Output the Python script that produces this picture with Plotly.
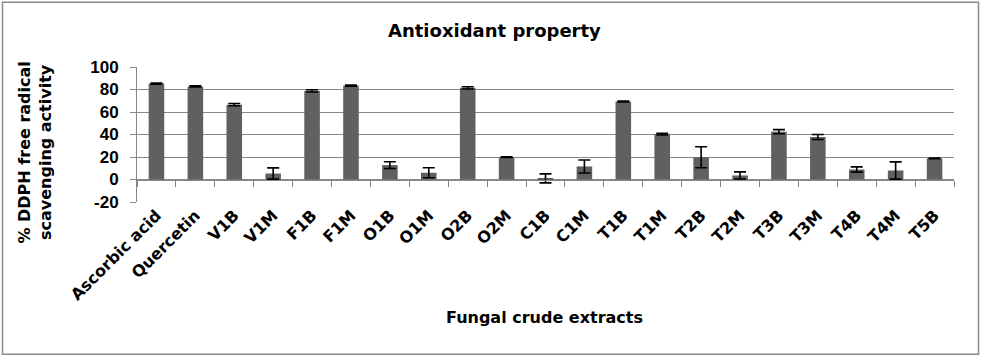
import plotly.graph_objects as go

categories = ["Ascorbic acid", "Quercetin", "V1B", "V1M", "F1B", "F1M", "O1B", "O1M",
              "O2B", "O2M", "C1B", "C1M", "T1B", "T1M", "T2B", "T2M", "T3B", "T3M",
              "T4B", "T4M", "T5B"]
values = [85.3, 82.7, 66.5, 5.3, 78.8, 83.5, 12.8, 6.0, 81.5, 19.8, 1.0, 11.6,
          69.3, 40.3, 19.8, 3.6, 42.5, 37.8, 8.9, 8.0, 18.7]
errors = [0.5, 0.5, 1.0, 5.0, 1.0, 0.5, 3.0, 4.5, 1.0, 0.3, 4.0, 5.8,
          0.4, 0.8, 9.3, 3.2, 1.8, 2.2, 2.3, 7.7, 0.3]
y_ticks = [-20, 0, 20, 40, 60, 80, 100]
y_tick_labels = ["-20", "0", "20", "40", "60", "80", "100"]

TXT = "DejaVu Sans, Verdana, sans-serif"
NUM = "Liberation Sans, Arial, sans-serif"
GRID = "#878787"

fig = go.Figure()
fig.add_trace(go.Bar(
    x=categories, y=values, xaxis="x", yaxis="y",
    width=0.4,
    marker=dict(color="#606060", line=dict(width=0)),
    error_y=dict(type="data", array=errors, visible=True, color="black",
                 thickness=1.6, width=6),
    hoverinfo="x+y",
))
# invisible trace carrying the label axis
fig.add_trace(go.Bar(x=categories, y=[None] * len(categories), xaxis="x2", yaxis="y",
                     showlegend=False, hoverinfo="skip"))

L, R, T, B = 137, 27, 67.3, 155.5
W, H = 981, 358
pw, ph = W - L - R, H - T - B
def px(x):
    return (x - L) / pw
def py(y):
    return (H - B - y) / ph

fig.update_layout(
    width=W, height=H,
    margin=dict(l=L, r=R, t=T, b=B, pad=0),
    paper_bgcolor="white", plot_bgcolor="white",
    showlegend=False, bargap=0.6,
    font=dict(family=TXT, color="black"),
    yaxis=dict(range=[-20, 100], tickvals=y_ticks, ticktext=y_tick_labels,
               showgrid=True, gridcolor=GRID,
               gridwidth=1, zeroline=False, showline=True, linecolor=GRID, linewidth=1,
               ticks="outside", ticklen=6, tickcolor=GRID,
               tickfont=dict(size=17, weight="bold", family=NUM),
               ticklabelstandoff=8),
    xaxis=dict(range=[-0.5, len(categories) - 0.5], anchor="free", position=1 / 6,
               showline=True, linecolor=GRID, linewidth=1, ticks="outside",
               tickson="boundaries", ticklen=6, tickcolor=GRID,
               showticklabels=False, showgrid=False),
    xaxis2=dict(range=[-0.5, len(categories) - 0.5], overlaying="x", anchor="y",
                side="bottom", showline=False, ticks="", showgrid=False,
                tickangle=-45, tickfont=dict(size=16, weight="bold", family=TXT)),
    annotations=[
        dict(text="Antioxidant property", xref="paper", yref="paper",
             x=px(494), y=py(31), showarrow=False, xanchor="center", yanchor="middle",
             font=dict(size=18, weight="bold", family=TXT)),
        dict(text="% DDPH free radical<br>scavenging activity", xref="paper", yref="paper",
             x=px(35), y=py(153), showarrow=False, xanchor="center", yanchor="middle",
             textangle=-90, font=dict(size=16, weight="bold", family=TXT)),
        dict(text="Fungal crude extracts", xref="paper", yref="paper",
             x=px(544), y=py(318), showarrow=False, xanchor="center", yanchor="middle",
             font=dict(size=16, weight="bold", family=TXT)),
    ],
    shapes=[
        dict(type="rect", xref="paper", yref="paper", x0=px(2.5), x1=px(978.5),
             y0=py(2.5), y1=py(355), line=dict(color="#8a8a8a", width=1.5),
             fillcolor="rgba(0,0,0,0)", layer="below"),
    ],
)

fig.write_html("out.html")
